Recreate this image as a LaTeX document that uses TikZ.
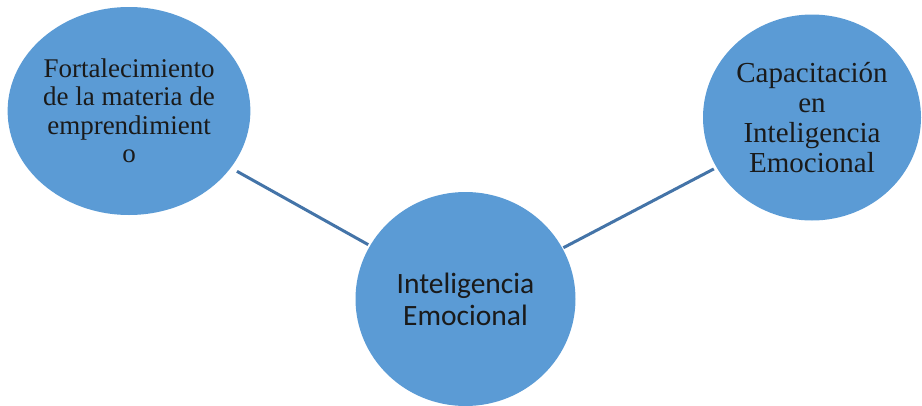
\documentclass[tikz,border=0pt]{standalone}
\usepackage{fontspec}
\setmainfont{Liberation Serif}
\newfontfamily\calfont{Carlito}
\usetikzlibrary{shapes.geometric}
\definecolor{bubble}{RGB}{91,155,213}
\definecolor{linkc}{RGB}{68,116,168}
\definecolor{txt}{RGB}{26,26,26}
\tikzset{
  bubble/.style={ellipse, fill=bubble, draw=none, inner sep=0pt, align=center, text=txt},
  serifbig/.style={font=\fontsize{27}{28.5}\selectfont},
  serifright/.style={font=\fontsize{29}{30}\selectfont},
  sansbig/.style={font=\calfont\fontsize{29.5}{32}\selectfont},
  link/.style={draw=linkc, line width=3pt}
}
\begin{document}
\begin{tikzpicture}[x=1pt,y=-1pt]
\useasboundingbox (0,0) rectangle (922,405);
\clip (0,0) rectangle (922,405);
\node[bubble, serifbig, minimum width=242pt, minimum height=208pt] (L) at (129,111)
  {Fortalecimiento\\de la materia de\\emprendimient\\o};
\node[bubble, serifright, minimum width=218pt, minimum height=206pt] (R) at (812,117.5)
  {Capacitación\\en\\Inteligencia\\Emocional};
\node[bubble, sansbig, minimum width=220pt, minimum height=214pt] (M) at (465.5,299)
  {Inteligencia\\Emocional};
\draw[link, shorten <=7pt, shorten >=2pt] (L) -- (M);
\draw[link, shorten <=1pt, shorten >=3pt] (M) -- (R);
\end{tikzpicture}
\end{document}
